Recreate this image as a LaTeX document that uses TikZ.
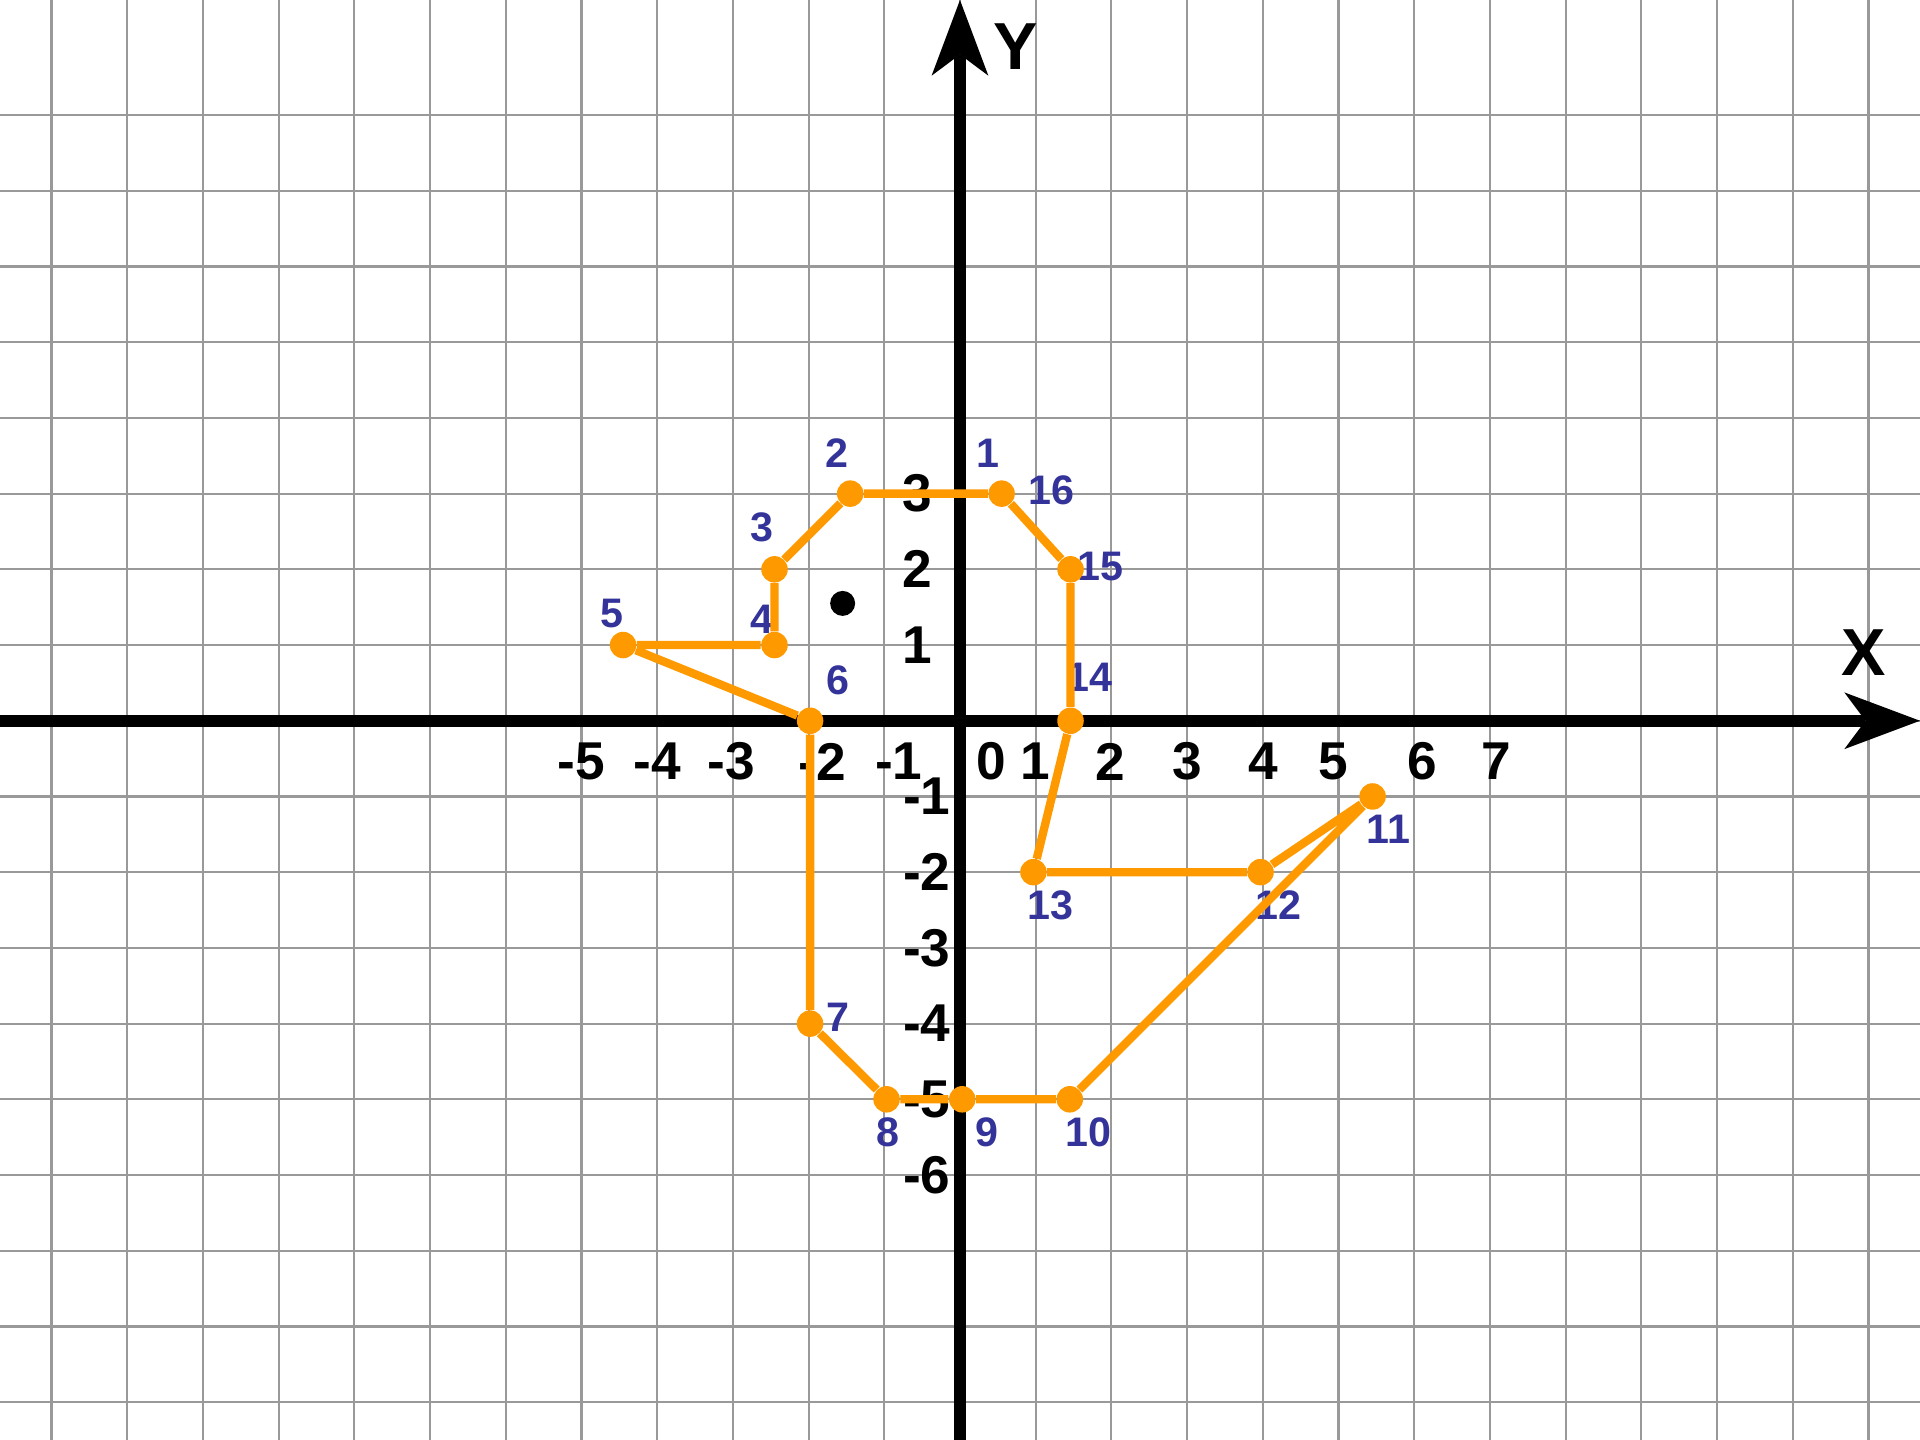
\documentclass[tikz,border=0pt]{standalone}
\usepackage{fontspec}
\setmainfont{Liberation Sans}
\usepackage{xcolor}
\usepackage{tikz}
\usetikzlibrary{arrows.meta}

\definecolor{gridgray}{HTML}{999999}
\definecolor{lineorange}{HTML}{FF9900}
\definecolor{numblue}{HTML}{333399}

\begin{document}
\begin{tikzpicture}[
  font=\bfseries,
  gridline/.style={draw=gridgray, line width=0.8pt},
  axisline/.style={line width=0.155cm,
                   -{Stealth[length=1cm, width=0.75cm, inset=0.28cm, line width=0pt]}},
  ticklab/.style={font=\fontsize{20}{20}\selectfont\bfseries, inner sep=0pt},
  axisname/.style={font=\fontsize{25}{25}\selectfont\bfseries, inner sep=0pt},
  numlab/.style={text=numblue, font=\fontsize{15.5}{15.5}\selectfont\bfseries, inner sep=0pt},
  ptdot/.style={circle, fill=lineorange, inner sep=0pt, minimum size=0.35cm},
  blackdot/.style={circle, fill=black, inner sep=0pt, minimum size=0.33cm},
  shapeline/.style={draw=lineorange, line width=0.11cm, line join=round}
]
\useasboundingbox (-12.68,-9.5) rectangle (12.68,9.52);
\draw[gridline, xstep=1, ystep=100] (-12.68,-9.5) grid (12.68,9.52);
\draw[gridline, xstep=100, ystep=1] (-12.68,-9.5) grid (12.68,8.5);

\coordinate (xmin) at (-12.68,0);
\coordinate (xmax) at (12.68,0);
\coordinate (ymin) at (0,-9.5);
\coordinate (ymax) at (0,9.52);
\draw[axisline] (xmin) -- (xmax);
\draw[axisline] (ymin) -- (ymax);
\node[axisname] (xname) at (11.93,0.90) {X};
\node[axisname] (yname) at (0.74,8.90) {Y};

\node[ticklab] (xm5) at (-5.0,-0.54) {-5};
\node[ticklab] (xm4) at (-4.0,-0.54) {-4};
\node[ticklab] (xm3) at (-3.02,-0.54) {-3};
\node[ticklab] (xm2) at (-1.82,-0.54) {-2};
\node[ticklab] (xm1) at (-0.81,-0.54) {-1};
\node[ticklab] (x0) at (0.42,-0.54) {0};
\node[ticklab] (x1) at (1.0,-0.54) {1};
\node[ticklab] (x2) at (1.99,-0.54) {2};
\node[ticklab] (x3) at (3.0,-0.54) {3};
\node[ticklab] (x4) at (4.0,-0.54) {4};
\node[ticklab] (x5) at (4.93,-0.54) {5};
\node[ticklab] (x6) at (6.11,-0.54) {6};
\node[ticklab] (x7) at (7.08,-0.54) {7};

\node[ticklab] (y3) at (-0.57,3) {3};
\node[ticklab] (y2) at (-0.57,2) {2};
\node[ticklab] (y1) at (-0.57,1) {1};
\node[ticklab] (ym1) at (-0.44,-1) {-1};
\node[ticklab] (ym2) at (-0.44,-2) {-2};
\node[ticklab] (ym3) at (-0.44,-3) {-3};
\node[ticklab] (ym4) at (-0.44,-4) {-4};
\node[ticklab] (ym5) at (-0.44,-5) {-5};
\node[ticklab] (ym6) at (-0.44,-6) {-6};

\node[numlab] (n1) at (0.37,3.53) {1};
\node[numlab] (n2) at (-1.62,3.53) {2};
\node[numlab] (n3) at (-2.61,2.55) {3};
\node[numlab] (n4) at (-2.61,1.34) {4};
\node[numlab] (n5) at (-4.60,1.42) {5};
\node[numlab] (n6) at (-1.61,0.54) {6};
\node[numlab] (n7) at (-1.61,-3.92) {7};
\node[numlab] (n8) at (-0.95,-5.43) {8};
\node[numlab] (n9) at (0.36,-5.43) {9};
\node[numlab] (n10) at (1.70,-5.43) {10};
\node[numlab] (n11) at (5.66,-1.44) {11};
\node[numlab] (n12) at (4.21,-2.44) {12};
\node[numlab] (n13) at (1.20,-2.44) {13};
\node[numlab] (n14) at (1.71,0.57) {14};
\node[numlab] (n15) at (1.85,2.04) {15};
\node[numlab] (n16) at (1.21,3.05) {16};

\node[blackdot] (mark) at (-1.55,1.55) {};

\node[ptdot] (p1) at (0.55,3) {};
\node[ptdot] (p2) at (-1.45,3) {};
\node[ptdot] (p3) at (-2.45,2) {};
\node[ptdot] (p4) at (-2.45,1) {};
\node[ptdot] (p5) at (-4.45,1) {};
\node[ptdot] (p6) at (-1.98,0) {};
\node[ptdot] (p7) at (-1.98,-4) {};
\node[ptdot] (p8) at (-0.97,-5) {};
\node[ptdot] (p9) at (0.03,-5) {};
\node[ptdot] (p10) at (1.45,-5) {};
\node[ptdot] (p11) at (5.45,-1) {};
\node[ptdot] (p12) at (3.97,-2) {};
\node[ptdot] (p13) at (0.97,-2) {};
\node[ptdot] (p14) at (1.46,0) {};
\node[ptdot] (p15) at (1.46,2) {};
\draw[shapeline] (p1) -- (p2) -- (p3) -- (p4) -- (p5) -- (p6) -- (p7) -- (p8)
  -- (p9) -- (p10) -- (p11) -- (p12) -- (p13) -- (p14) -- (p15) -- (p1);
\end{tikzpicture}
\end{document}
